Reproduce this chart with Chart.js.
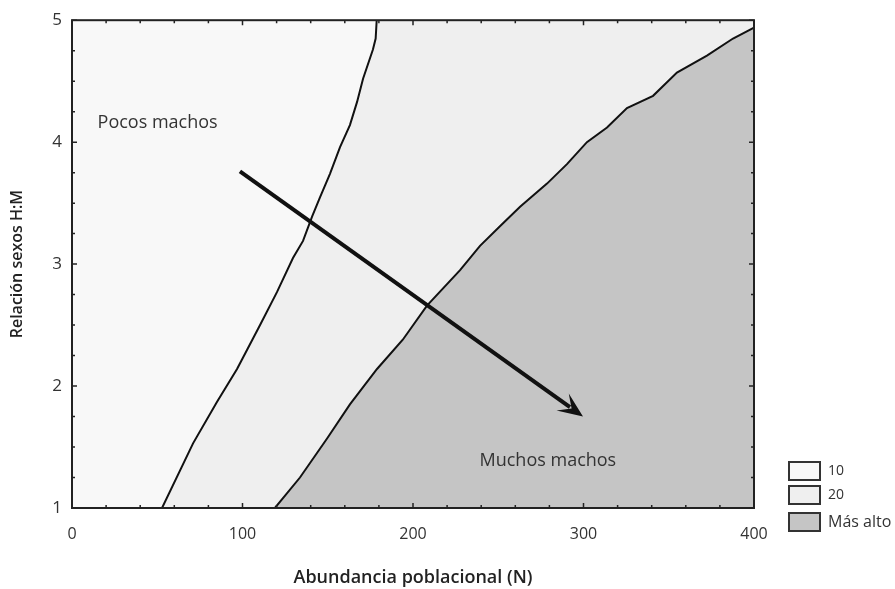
<!DOCTYPE html>
<html lang="es">
<head>
    <meta charset="UTF-8">
    <title>Relación sexos vs abundancia</title>
    <script src="https://cdn.jsdelivr.net/npm/chart.js@4.4.1/dist/chart.umd.min.js"></script>
    <style>
        * { margin: 0; padding: 0; box-sizing: border-box; }
        body { background: #ffffff; width: 895px; height: 589px; overflow: hidden; }
        #wrap { width: 895px; height: 589px; }
    </style>
</head>
<body>
    <div id="wrap"><canvas id="chart" width="895" height="589"></canvas></div>

    <script>
        // Contour boundaries (x = N, y = H:M)
        const curve1X = [52.8, 71, 85, 96.8, 110.3, 120.2, 129.6, 135.5, 140.8, 145.5, 151.3, 157.2, 163, 167.2, 170.7, 176.5, 178.1, 178.7];
        const curve1Y = [1, 1.53, 1.87, 2.14, 2.5, 2.77, 3.05, 3.19, 3.39, 3.55, 3.74, 3.96, 4.14, 4.33, 4.52, 4.76, 4.85, 5];
        const curve2X = [119, 133.7, 149.6, 163, 178.9, 194, 208.2, 227.6, 239.3, 251, 262.8, 278.6, 290.3, 302, 313.8, 325.5, 340.8, 354.8, 372.4, 387.7, 400];
        const curve2Y = [1, 1.25, 1.57, 1.85, 2.14, 2.38, 2.66, 2.95, 3.15, 3.31, 3.47, 3.66, 3.82, 4.0, 4.12, 4.28, 4.38, 4.57, 4.71, 4.85, 4.94];

        // Arrow (start -> end)
        const arrowX = [98.5, 299.7];
        const arrowY = [3.76, 1.75];

        const xTicks = [0, 100, 200, 300, 400];
        const yTicks = [1, 2, 3, 4, 5];

        const legendLabels = ['10', '20', 'Más alto'];
        const regionColors = ['#f8f8f8', '#efefef', '#c5c5c5'];

        const noteTexts = ['Pocos machos', 'Muchos machos'];
        const noteX = [15, 239];
        const noteY = [4.16, 1.39];

        const pts = (xs, ys) => xs.map((x, i) => ({ x: x, y: ys[i] }));

        // middle band fill needs to close along the top edge
        const band2 = pts(curve1X, curve1Y).concat([{ x: xTicks[xTicks.length - 1], y: yTicks[yTicks.length - 1] }]);

        const FONT = "'Open Sans', 'DejaVu Sans', sans-serif";

        const plotBg = {
            id: 'plotBg',
            beforeDraw(chart) {
                const a = chart.chartArea, ctx = chart.ctx;
                ctx.save();
                ctx.fillStyle = regionColors[0];
                ctx.fillRect(a.left, a.top, a.right - a.left, a.bottom - a.top);
                ctx.restore();
            }
        };

        const extras = {
            id: 'extras',
            afterDatasetsDraw(chart) {
                const ctx = chart.ctx;
                const xs = chart.scales.x, ys = chart.scales.y;
                const a = chart.chartArea;

                // arrow
                const meta = chart.getDatasetMeta(3);
                const p0 = meta.data[0], p1 = meta.data[1];
                const ang = Math.atan2(p1.y - p0.y, p1.x - p0.x);
                const len = 25, half = 10.5, back = 14;
                ctx.save();
                ctx.strokeStyle = '#111';
                ctx.lineWidth = 4;
                ctx.beginPath();
                ctx.moveTo(p0.x, p0.y);
                ctx.lineTo(p1.x - Math.cos(ang) * (back + 2), p1.y - Math.sin(ang) * (back + 2));
                ctx.stroke();
                ctx.translate(p1.x, p1.y);
                ctx.rotate(ang);
                ctx.fillStyle = '#111';
                ctx.beginPath();
                ctx.moveTo(0, 0);
                ctx.lineTo(-len, -half);
                ctx.lineTo(-back, 0);
                ctx.lineTo(-len, half);
                ctx.closePath();
                ctx.fill();
                ctx.restore();

                // notes
                ctx.save();
                ctx.fillStyle = '#333';
                ctx.font = '18px ' + FONT;
                ctx.textBaseline = 'middle';
                noteTexts.forEach((t, i) => {
                    ctx.fillText(t, xs.getPixelForValue(noteX[i]), ys.getPixelForValue(noteY[i]));
                });
                ctx.restore();

                // frame and inward ticks
                ctx.save();
                ctx.strokeStyle = '#222';
                ctx.lineWidth = 2;
                ctx.strokeRect(a.left, a.top, a.right - a.left, a.bottom - a.top);
                ctx.lineWidth = 1.5;
                ctx.beginPath();
                for (let v = 0; v <= 400; v += 20) {
                    const px = xs.getPixelForValue(v);
                    const l = v % 100 === 0 ? 5 : 3;
                    ctx.moveTo(px, a.top); ctx.lineTo(px, a.top + l);
                    ctx.moveTo(px, a.bottom); ctx.lineTo(px, a.bottom - l);
                }
                for (let v = 1; v <= 5.001; v += 0.25) {
                    const py = ys.getPixelForValue(v);
                    const l = Math.abs(v - Math.round(v)) < 0.01 ? 5 : 3;
                    ctx.moveTo(a.left, py); ctx.lineTo(a.left + l, py);
                    ctx.moveTo(a.right, py); ctx.lineTo(a.right - l, py);
                }
                ctx.stroke();
                ctx.restore();

                // legend
                ctx.save();
                const bx = a.right + 35, bw = 31, bh = 18;
                const tops = [a.bottom - 46, a.bottom - 22, a.bottom + 5];
                ctx.textBaseline = 'middle';
                legendLabels.forEach((t, i) => {
                    ctx.fillStyle = regionColors[i];
                    ctx.fillRect(bx, tops[i], bw, bh);
                    ctx.strokeStyle = '#333';
                    ctx.lineWidth = 2;
                    ctx.strokeRect(bx, tops[i], bw, bh);
                    ctx.fillStyle = '#333';
                    ctx.font = (i < 2 ? '14px ' : '16px ') + FONT;
                    ctx.fillText(t, bx + bw + 8, tops[i] + bh / 2);
                });
                ctx.restore();
            }
        };

        new Chart(document.getElementById('chart'), {
            type: 'scatter',
            data: {
                datasets: [
                    {
                        label: 'band20',
                        data: band2,
                        showLine: true,
                        fill: 'start',
                        backgroundColor: regionColors[1],
                        borderWidth: 0,
                        pointRadius: 0,
                        order: 4
                    },
                    {
                        label: 'alto',
                        data: pts(curve2X, curve2Y),
                        showLine: true,
                        fill: 'start',
                        backgroundColor: regionColors[2],
                        borderColor: '#111',
                        borderWidth: 2,
                        pointRadius: 0,
                        order: 3
                    },
                    {
                        label: 'line10',
                        data: pts(curve1X, curve1Y),
                        showLine: true,
                        fill: false,
                        borderColor: '#111',
                        borderWidth: 2,
                        pointRadius: 0,
                        order: 2
                    },
                    {
                        label: 'arrow',
                        data: pts(arrowX, arrowY),
                        showLine: false,
                        pointRadius: 0,
                        order: 1
                    }
                ]
            },
            options: {
                responsive: false,
                animation: false,
                events: [],
                layout: { padding: { top: 14, right: 141, left: 0, bottom: 0 } },
                plugins: {
                    legend: { display: false },
                    tooltip: { enabled: false }
                },
                scales: {
                    x: {
                        type: 'linear',
                        min: 0,
                        max: 400,
                        afterBuildTicks: (s) => { s.ticks = xTicks.map(v => ({ value: v })); },
                        afterFit: (s) => { s.height = 81; },
                        grid: { display: false, drawTicks: false },
                        border: { display: false },
                        ticks: {
                            color: '#333',
                            padding: 17,
                            maxRotation: 0,
                            font: { family: FONT, size: 16 }
                        },
                        title: {
                            display: true,
                            text: 'Abundancia poblacional (N)',
                            color: '#222',
                            font: { family: FONT, size: 18, weight: '600' },
                            padding: { top: 0, bottom: 0 }
                        }
                    },
                    y: {
                        type: 'linear',
                        min: 1,
                        max: 5,
                        afterBuildTicks: (s) => { s.ticks = yTicks.map(v => ({ value: v })); },
                        afterFit: (s) => { s.width = 72; },
                        grid: { display: false, drawTicks: false },
                        border: { display: false },
                        ticks: {
                            color: '#333',
                            padding: 10,
                            font: { family: FONT, size: 17 }
                        },
                        title: {
                            display: true,
                            text: 'Relación sexos H:M',
                            color: '#222',
                            font: { family: FONT, size: 16, weight: '600' },
                            padding: { top: 8, bottom: 0 }
                        }
                    }
                }
            },
            plugins: [plotBg, extras]
        });
    </script>
</body>
</html>
